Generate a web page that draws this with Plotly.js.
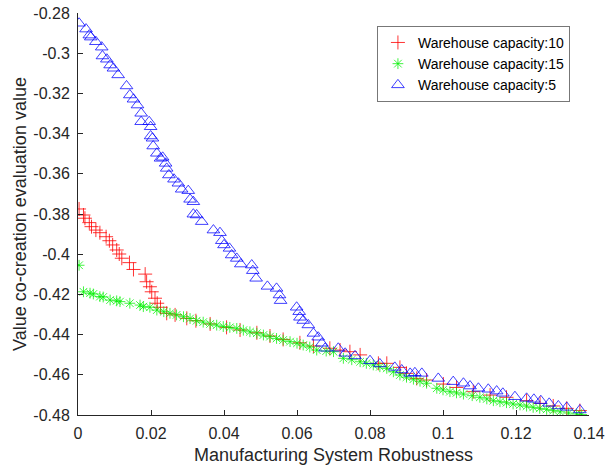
<!DOCTYPE html>
<html>
<head>
<meta charset="utf-8">
<script src="https://cdn.plot.ly/plotly-3.0.1.min.js"></script>
<style>html,body{margin:0;padding:0;background:#fff;}#chart{width:605px;height:468px;}</style>
</head>
<body>
<div id="chart"></div>
<script>
// Warehouse capacity:10
const redX = [0.0003,0.0015,0.0019,0.0031,0.0037,0.0049,0.006,0.0077,0.0086,0.0095,0.0106,0.0113,0.012,0.0141,0.0152,0.0184,0.0188,0.0197,0.0202,0.0211,0.0217,0.0226,0.0243,0.0266,0.0298,0.0323,0.0362,0.0407,0.0444,0.049,0.0526,0.0562,0.0608,0.0645,0.069,0.0718,0.0745,0.0773,0.0823,0.0846,0.0882,0.09,0.0928,0.0955,0.1001,0.1037,0.1083,0.1129,0.1174,0.1229,0.1266,0.1302,0.1339,0.1375];
const redY = [-0.3775,-0.3805,-0.3821,-0.3843,-0.3863,-0.388,-0.3893,-0.3913,-0.3933,-0.3954,-0.3979,-0.3999,-0.402,-0.4042,-0.4076,-0.4099,-0.4137,-0.4162,-0.4187,-0.4219,-0.4244,-0.4264,-0.4294,-0.4302,-0.4319,-0.4331,-0.4347,-0.4364,-0.4377,-0.4391,-0.4407,-0.4424,-0.4441,-0.4457,-0.4468,-0.4477,-0.4485,-0.4501,-0.4543,-0.4543,-0.4563,-0.4593,-0.4618,-0.4626,-0.4646,-0.4663,-0.4684,-0.4701,-0.4712,-0.4729,-0.4742,-0.4755,-0.4767,-0.4778];
// Warehouse capacity:15
const greenX = [0.0003,0.0015,0.0033,0.0042,0.006,0.0069,0.0088,0.0106,0.0115,0.0142,0.017,0.0179,0.0197,0.0216,0.0235,0.0252,0.027,0.0289,0.0307,0.0325,0.0343,0.0362,0.038,0.0398,0.0416,0.0435,0.0453,0.0471,0.049,0.0508,0.0526,0.0544,0.0562,0.0581,0.06,0.0617,0.0635,0.0654,0.068,0.07,0.0727,0.075,0.0773,0.079,0.0809,0.0827,0.0846,0.0864,0.0882,0.09,0.0919,0.0937,0.0955,0.0983,0.1,0.1019,0.1037,0.1056,0.108,0.1101,0.112,0.1138,0.1156,0.1174,0.1192,0.1211,0.1229,0.1247,0.1265,0.1284,0.1302,0.1321,0.1344,0.1366,0.138];
const greenY = [-0.4055,-0.4187,-0.4194,-0.4198,-0.4211,-0.4213,-0.4228,-0.4232,-0.4236,-0.4244,-0.4253,-0.4261,-0.4264,-0.4278,-0.4286,-0.4294,-0.4302,-0.4311,-0.432,-0.4331,-0.4338,-0.4347,-0.4353,-0.436,-0.4364,-0.4369,-0.4378,-0.4386,-0.4393,-0.4402,-0.441,-0.4419,-0.4427,-0.4435,-0.4443,-0.4452,-0.4462,-0.4477,-0.4482,-0.4485,-0.4518,-0.4525,-0.4535,-0.4543,-0.4551,-0.456,-0.4568,-0.4585,-0.4601,-0.4612,-0.4622,-0.4632,-0.4642,-0.4667,-0.4675,-0.4684,-0.469,-0.4696,-0.4704,-0.4712,-0.472,-0.4729,-0.4734,-0.4739,-0.4745,-0.475,-0.4756,-0.4762,-0.4767,-0.4772,-0.4778,-0.4784,-0.479,-0.4795,-0.4798];
// Warehouse capacity:5
const blueX = [0.0003,0.0022,0.0031,0.0035,0.0049,0.0065,0.0067,0.0079,0.0088,0.0097,0.011,0.0133,0.0142,0.0152,0.0163,0.0173,0.0173,0.0195,0.0199,0.0199,0.0204,0.0206,0.0216,0.0226,0.0232,0.024,0.0243,0.0249,0.0263,0.0275,0.0284,0.0302,0.0307,0.0316,0.0316,0.0325,0.0339,0.0371,0.0389,0.0394,0.04,0.0415,0.0421,0.0435,0.0446,0.0476,0.0479,0.0488,0.0519,0.0544,0.0552,0.0555,0.0599,0.0606,0.0608,0.0617,0.0631,0.0645,0.0658,0.0668,0.0677,0.0713,0.0732,0.0759,0.08,0.0827,0.0868,0.0887,0.091,0.0923,0.0942,0.0987,0.1028,0.1056,0.1074,0.1097,0.1124,0.1147,0.1164,0.1197,0.1229,0.1249,0.1268,0.1291,0.1316,0.1339,0.1375];
const blueY = [-0.2851,-0.288,-0.291,-0.292,-0.2943,-0.297,-0.3014,-0.303,-0.3059,-0.3075,-0.3108,-0.3163,-0.3208,-0.3229,-0.3258,-0.3299,-0.3341,-0.3341,-0.3366,-0.3412,-0.3423,-0.3462,-0.3498,-0.3523,-0.3518,-0.3548,-0.3573,-0.3606,-0.3627,-0.3647,-0.3677,-0.3684,-0.3727,-0.3739,-0.3801,-0.3805,-0.3838,-0.388,-0.3893,-0.3933,-0.3954,-0.3971,-0.4004,-0.4021,-0.4049,-0.4054,-0.4082,-0.412,-0.4160,-0.417,-0.4203,-0.4231,-0.4264,-0.4286,-0.4314,-0.4330,-0.4352,-0.4394,-0.4413,-0.4443,-0.4468,-0.4468,-0.4493,-0.4506,-0.453,-0.4546,-0.4563,-0.4576,-0.4593,-0.459,-0.4593,-0.4618,-0.4634,-0.4642,-0.4656,-0.4667,-0.4672,-0.4681,-0.4692,-0.4709,-0.4717,-0.4722,-0.4729,-0.4742,-0.4755,-0.4762,-0.4775];

const xTicks = [0,0.02,0.04,0.06,0.08,0.1,0.12,0.14];
const xTickText = ["0","0.02","0.04","0.06","0.08","0.1","0.12","0.14"];
const yTicks = [-0.48,-0.46,-0.44,-0.42,-0.4,-0.38,-0.36,-0.34,-0.32,-0.3,-0.28];
const yTickText = ["-0.48","-0.46","-0.44","-0.42","-0.4","-0.38","-0.36","-0.34","-0.32","-0.3","-0.28"];

const traces = [
  {x: redX, y: redY, type:'scatter', mode:'markers', name:'Warehouse capacity:10',
   marker:{symbol:'cross-thin-open', size:10, color:'rgba(255,0,0,0.8)', line:{width:1, color:'rgba(255,0,0,0.8)'}}},
  {x: greenX, y: greenY, type:'scatter', mode:'markers', name:'Warehouse capacity:15',
   marker:{symbol:'asterisk-open', size:9, color:'rgba(0,240,0,0.75)', line:{width:1, color:'rgba(0,240,0,0.75)'}}},
  {x: blueX, y: blueY, type:'scatter', mode:'markers', name:'Warehouse capacity:5',
   marker:{symbol:'triangle-up-open', size:11, color:'rgba(0,0,255,0.75)', line:{width:1, color:'rgba(0,0,255,0.75)'}}}
];

const fam = 'Liberation Sans, Arial, sans-serif';
const tickFont = {family:fam, size:16, color:'#262626'};
const titleFont = {family:fam, size:18, color:'#262626'};
const layout = {
  width:605, height:468,
  margin:{l:78, r:16, t:13, b:53},
  paper_bgcolor:'#ffffff', plot_bgcolor:'#ffffff',
  showlegend:true,
  font: tickFont,
  xaxis:{range:[0,0.14], tickvals:xTicks, ticktext:xTickText, ticks:'inside', ticklen:5, tickcolor:'#262626',
    showline:true, linecolor:'#262626', linewidth:1, showgrid:false, zeroline:false, mirror:false,
    tickfont:tickFont, ticklabelstandoff:4,
    title:{text:'Manufacturing System Robustness', font:titleFont, standoff:7}},
  yaxis:{range:[-0.48,-0.28], tickvals:yTicks, ticktext:yTickText, ticks:'inside', ticklen:5, tickcolor:'#262626',
    showline:true, linecolor:'#262626', linewidth:1, showgrid:false, zeroline:false, mirror:false,
    tickfont:tickFont, ticklabelstandoff:4,
    title:{text:'Value co-creation evaluation value', font:titleFont, standoff:2}},
  legend:{x:0.585, y:0.968, xanchor:'left', yanchor:'top', bgcolor:'#ffffff', bordercolor:'#777777', borderwidth:1,
    font:{family:fam, size:14, color:'#000000'}, itemwidth:30, tracegroupgap:0}
};

Plotly.newPlot('chart', traces, layout, {displayModeBar:false, staticPlot:true});
</script>
</body>
</html>
